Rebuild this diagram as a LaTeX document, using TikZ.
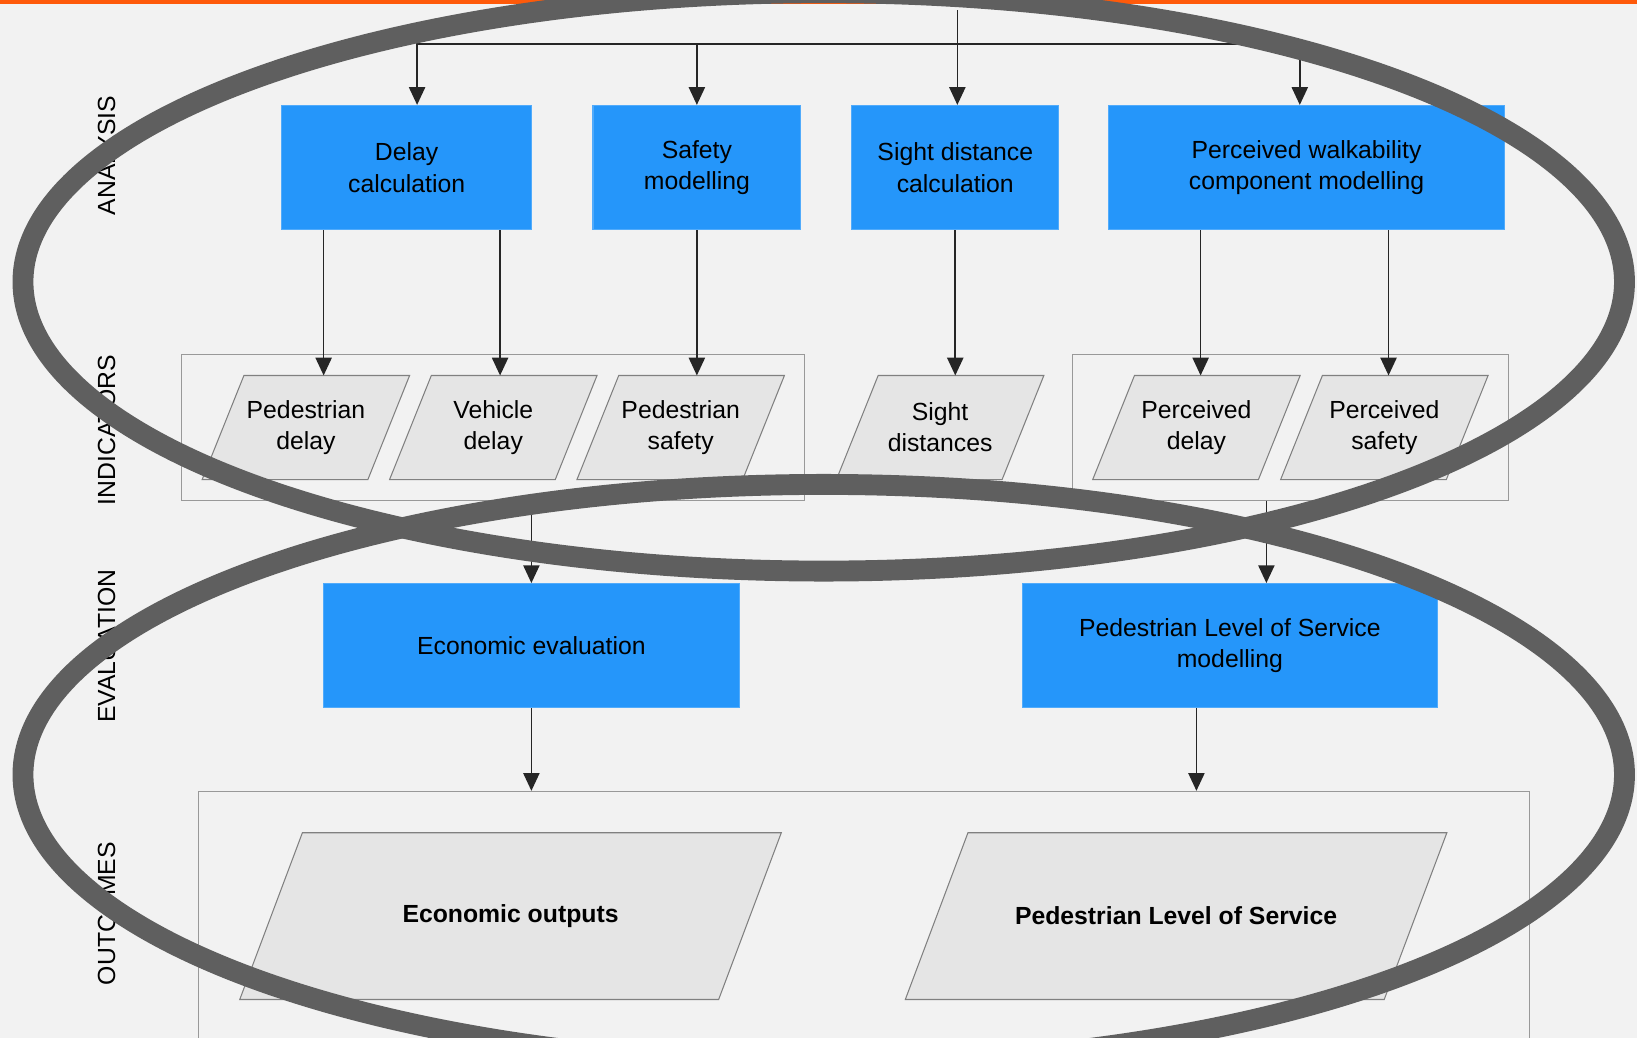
\documentclass[tikz,border=0pt]{standalone}
\usepackage{fontspec}
\setmainfont{Liberation Sans}
\usepackage{tikz}
\usetikzlibrary{calc}
\usetikzlibrary{positioning}
\usetikzlibrary{backgrounds}
\usetikzlibrary{arrows.meta}

\definecolor{procblue}{HTML}{2596FA}
\definecolor{databg}{HTML}{E5E5E5}
\definecolor{ringgray}{HTML}{5F5F5F}
\definecolor{pagegray}{HTML}{F2F2F2}
\definecolor{topline}{HTML}{FF5A0A}

\begin{document}
\begin{tikzpicture}[x=0.2mm, y=-0.2mm,
    txt/.style={font=\fontsize{13.5}{17}\selectfont, text=black},
    proc/.style={txt, rectangle, fill=procblue, draw=procblue!80!white, line width=0.2mm, minimum height=23.8mm, align=center},
    data/.style={txt, rectangle, minimum width=31.6mm, minimum height=19.8mm, align=center, inner sep=1pt},
    bigdata/.style={data, minimum width=91.6mm, minimum height=31.8mm},
    databox/.style={fill=databg, draw=black!50, line width=0.2mm},
    grp/.style={rectangle, draw=black!40, line width=0.2mm},
    lane/.style={txt, rotate=90},
    arr/.style={draw=black!85, line width=0.3mm, -{Triangle[length=3.4mm, width=3.1mm]}},
    ring/.style={draw=ringgray, line width=4mm}]
    \useasboundingbox (0, 0) rectangle (1568, 994);
    \clip (0, 0) rectangle (1568, 994);
    \begin{scope}[on background layer]
        \fill[pagegray] (0, 0) rectangle (1568, 994);
        \fill[topline] (0, 0) rectangle (1568, 4);
    \end{scope}

    % row labels
    \node[lane] (lanA) at (102, 149) {ANALYSIS};
    \node[lane] (lanI) at (102, 412) {INDICATORS};
    \node[lane] (lanE) at (102, 619) {EVALUATION};
    \node[lane] (lanO) at (102, 875) {OUTCOMES};

    % analysis
    \node[proc, minimum width=47.8mm] (dcalc) at (389.5, 160.5) {Delay\\calculation};
    \node[proc, minimum width=39.8mm] (smod) at (667.5, 160.5) {Safety\\modelling};
    \node[proc, minimum width=39.6mm] (sdcalc) at (915, 160.5) {Sight distance\\calculation};
    \node[proc, minimum width=75.8mm] (pwcm) at (1251.5, 160.5) {Perceived walkability\\component modelling};

    % indicators
    \node[grp, minimum width=119.4mm, minimum height=27.8mm] (grp1) at (472.5, 409.5) {};
    \node[grp, minimum width=83.6mm, minimum height=27.8mm] (grp2) at (1236, 409.5) {};
    \node[data] (pdel) at (293, 409.5) {Pedestrian\\delay};
    \node[data] (vdel) at (472.5, 409.5) {Vehicle\\delay};
    \node[data] (psaf) at (652, 409.5) {Pedestrian\\safety};
    \node[data] (sdist) at (900.5, 409.5) {Sight\\distances};
    \node[data] (perdel) at (1146, 409.5) {Perceived\\delay};
    \node[data] (persaf) at (1326, 409.5) {Perceived\\safety};

    % evaluation
    \node[proc, minimum width=79.6mm] (econ) at (509, 618.5) {Economic evaluation};
    \node[proc, minimum width=79.6mm] (plos) at (1178, 618.5) {Pedestrian Level of Service\\modelling};

    % outcomes
    \node[grp, minimum width=255mm, minimum height=52mm] (outbox) at (827.5, 888) {};
    \node[bigdata] (ecout) at (489, 877.5) {\textbf{Economic outputs}};
    \node[bigdata] (plosout) at (1126.5, 877.5) {\textbf{Pedestrian Level of Service}};

    % slanted data shapes behind the texts
    \begin{scope}[on background layer]
        \foreach \n/\s in {pdel/20, vdel/20, psaf/20, sdist/20, perdel/20, persaf/20, ecout/30, plosout/30}
            \filldraw[databox] ([xshift=-\s*0.2mm]\n.south west) -- ([xshift=\s*0.2mm]\n.north west)
                -- ([xshift=\s*0.2mm]\n.north east) -- ([xshift=-\s*0.2mm]\n.south east) -- cycle;
    \end{scope}

    % connectors
    \coordinate (src) at (917, 10);
    \coordinate (bus) at (917, 42);
    \draw[arr] (src) -- (src |- sdcalc.north);
    \draw[arr] (bus) -| ([xshift=2mm]dcalc.north);
    \draw[arr] (bus) -| (smod.north);
    \draw[arr] (bus) -| ([xshift=-1.3mm]pwcm.north);

    \draw[arr] ([xshift=-15.9mm]dcalc.south) -- ([xshift=-15.9mm]dcalc.south |- pdel.north);
    \draw[arr] ([xshift=17.9mm]dcalc.south) -- ([xshift=17.9mm]dcalc.south |- vdel.north);
    \draw[arr] (smod.south) -- (smod.south |- psaf.north);
    \draw[arr] (sdcalc.south) -- (sdcalc.south |- sdist.north);
    \draw[arr] ([xshift=-20.3mm]pwcm.south) -- ([xshift=-20.3mm]pwcm.south |- perdel.north);
    \draw[arr] ([xshift=15.7mm]pwcm.south) -- ([xshift=15.7mm]pwcm.south |- persaf.north);

    \draw[arr] (econ.north |- grp1.south) -- (econ.north);
    \draw[arr] ([xshift=7mm]plos.north |- grp2.south) -- ([xshift=7mm]plos.north);
    \draw[arr] (econ.south) -- (econ.south |- outbox.north);
    \draw[arr] ([xshift=-6.4mm]plos.south) -- ([xshift=-6.4mm]plos.south |- outbox.north);

    % rings drawn over everything
    \draw[ring] (789, 270) ellipse [x radius=767, y radius=277];
    \draw[ring] (789, 742) ellipse [x radius=767, y radius=278];
\end{tikzpicture}
\end{document}
